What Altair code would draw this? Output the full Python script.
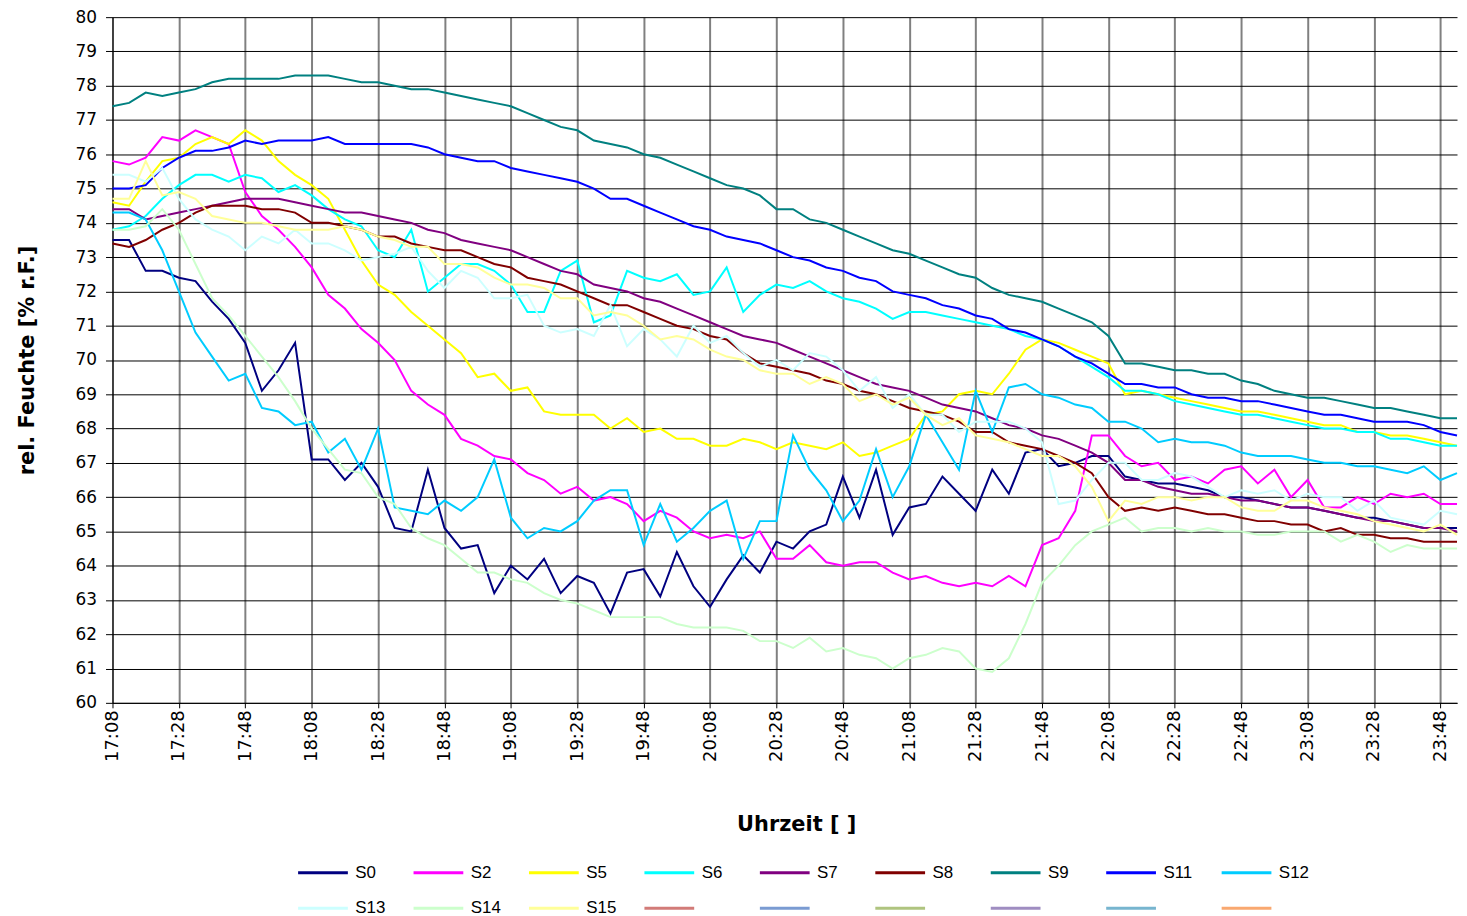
import altair as alt
import pandas as pd

# ---------------- data ----------------
series_names = ["S0", "S2", "S5", "S6", "S7", "S8", "S9", "S11", "S12", "S13", "S14", "S15"]
series_colors = ["#000080", "#FF00FF", "#FFFF00", "#00FFFF", "#800080", "#800000",
                 "#008080", "#0000FF", "#00CCFF", "#CCFFFF", "#CCFFCC", "#FFFF99"]
# legend-only entries without a name in the original
blank_names = [" ", "  ", "   ", "    ", "     ", "      "]
blank_colors = ["#D27B78", "#7A9BD2", "#AFC47F", "#9F8DC1", "#77B5CF", "#F9A870"]

step_minutes = 5  # one reading every 5 minutes, first at 17:08
tick_labels = ["17:08", "17:28", "17:48", "18:08", "18:28", "18:48", "19:08", "19:28",
               "19:48", "20:08", "20:28", "20:48", "21:08", "21:28", "21:48", "22:08",
               "22:28", "22:48", "23:08", "23:28", "23:48"]

S0 = [73.5, 73.5, 72.6, 72.6, 72.4, 72.3, 71.7, 71.2, 70.5, 69.1, 69.7, 70.5,
      67.1, 67.1, 66.5, 67.0, 66.3, 65.1, 65.0, 66.8, 65.1, 64.5, 64.6, 63.2,
      64.0, 63.6, 64.2, 63.2, 63.7, 63.5, 62.6, 63.8, 63.9, 63.1, 64.4, 63.4,
      62.8, 63.6, 64.3, 63.8, 64.7, 64.5, 65.0, 65.2, 66.6, 65.4, 66.8, 64.9,
      65.7, 65.8, 66.6, 66.1, 65.6, 66.8, 66.1, 67.3, 67.4, 66.9, 67.0, 67.2,
      67.2, 66.6, 66.5, 66.4, 66.4, 66.3, 66.2, 66.0, 66.0, 65.9, 65.8, 65.7,
      65.7, 65.6, 65.5, 65.4, 65.4, 65.3, 65.2, 65.1, 65.1, 65.1]
S2 = [75.8, 75.7, 75.9, 76.5, 76.4, 76.7, 76.5, 76.3, 74.9, 74.2, 73.8, 73.3,
      72.7, 71.9, 71.5, 70.9, 70.5, 70.0, 69.1, 68.7, 68.4, 67.7, 67.5, 67.2,
      67.1, 66.7, 66.5, 66.1, 66.3, 65.9, 66.0, 65.8, 65.3, 65.6, 65.4, 65.0,
      64.8, 64.9, 64.8, 65.0, 64.2, 64.2, 64.6, 64.1, 64.0, 64.1, 64.1, 63.8,
      63.6, 63.7, 63.5, 63.4, 63.5, 63.4, 63.7, 63.4, 64.6, 64.8, 65.6, 67.8,
      67.8, 67.2, 66.9, 67.0, 66.5, 66.6, 66.4, 66.8, 66.9, 66.4, 66.8, 66.0,
      66.5, 65.7, 65.7, 66.0, 65.8, 66.1, 66.0, 66.1, 65.8, 65.8]
S5 = [74.6, 74.5, 75.2, 75.8, 75.9, 76.3, 76.5, 76.3, 76.7, 76.4, 75.8, 75.4,
      75.1, 74.7, 73.8, 72.9, 72.2, 71.9, 71.4, 71.0, 70.6, 70.2, 69.5, 69.6,
      69.1, 69.2, 68.5, 68.4, 68.4, 68.4, 68.0, 68.3, 67.9, 68.0, 67.7, 67.7,
      67.5, 67.5, 67.7, 67.6, 67.4, 67.6, 67.5, 67.4, 67.6, 67.2, 67.3, 67.5,
      67.7, 68.4, 68.5, 69.0, 69.1, 69.0, 69.6, 70.3, 70.6, 70.5, 70.3, 70.1,
      69.9, 69.0, 69.1, 69.0, 68.9, 68.8, 68.7, 68.6, 68.5, 68.5, 68.4, 68.3,
      68.2, 68.1, 68.1, 67.9, 67.9, 67.8, 67.8, 67.7, 67.6, 67.5]
S6 = [73.8, 73.9, 74.2, 74.7, 75.1, 75.4, 75.4, 75.2, 75.4, 75.3, 74.9, 75.1,
      74.8, 74.4, 74.1, 73.9, 73.2, 73.0, 73.8, 72.0, 72.4, 72.8, 72.8, 72.6,
      72.2, 71.4, 71.4, 72.6, 72.9, 71.1, 71.3, 72.6, 72.4, 72.3, 72.5, 71.9,
      72.0, 72.7, 71.4, 71.9, 72.2, 72.1, 72.3, 72.0, 71.8, 71.7, 71.5, 71.2,
      71.4, 71.4, 71.3, 71.2, 71.1, 71.0, 70.9, 70.7, 70.6, 70.4, 70.1, 69.8,
      69.5, 69.1, 69.1, 69.0, 68.8, 68.7, 68.6, 68.5, 68.4, 68.4, 68.3, 68.2,
      68.1, 68.0, 68.0, 67.9, 67.9, 67.7, 67.7, 67.6, 67.5, 67.5]
S7 = [74.4, 74.4, 74.1, 74.2, 74.3, 74.4, 74.5, 74.6, 74.7, 74.7, 74.7, 74.6,
      74.5, 74.4, 74.3, 74.3, 74.2, 74.1, 74.0, 73.8, 73.7, 73.5, 73.4, 73.3,
      73.2, 73.0, 72.8, 72.6, 72.5, 72.2, 72.1, 72.0, 71.8, 71.7, 71.5, 71.3,
      71.1, 70.9, 70.7, 70.6, 70.5, 70.3, 70.1, 69.9, 69.7, 69.5, 69.3, 69.2,
      69.1, 68.9, 68.7, 68.6, 68.5, 68.3, 68.1, 68.0, 67.8, 67.7, 67.5, 67.3,
      67.0, 66.5, 66.5, 66.3, 66.2, 66.1, 66.1, 66.0, 65.9, 65.9, 65.8, 65.7,
      65.7, 65.6, 65.5, 65.4, 65.3, 65.3, 65.2, 65.1, 65.1, 65.0]
S8 = [73.4, 73.3, 73.5, 73.8, 74.0, 74.3, 74.5, 74.5, 74.5, 74.4, 74.4, 74.3,
      74.0, 74.0, 73.9, 73.8, 73.6, 73.6, 73.4, 73.3, 73.2, 73.2, 73.0, 72.8,
      72.7, 72.4, 72.3, 72.2, 72.0, 71.8, 71.6, 71.6, 71.4, 71.2, 71.0, 70.9,
      70.7, 70.6, 70.2, 69.9, 69.8, 69.7, 69.6, 69.4, 69.3, 69.1, 69.0, 68.8,
      68.6, 68.5, 68.4, 68.2, 67.9, 67.9, 67.6, 67.5, 67.4, 67.2, 67.0, 66.7,
      66.0, 65.6, 65.7, 65.6, 65.7, 65.6, 65.5, 65.5, 65.4, 65.3, 65.3, 65.2,
      65.2, 65.0, 65.1, 64.9, 64.9, 64.8, 64.8, 64.7, 64.7, 64.7]
S9 = [77.4, 77.5, 77.8, 77.7, 77.8, 77.9, 78.1, 78.2, 78.2, 78.2, 78.2, 78.3,
      78.3, 78.3, 78.2, 78.1, 78.1, 78.0, 77.9, 77.9, 77.8, 77.7, 77.6, 77.5,
      77.4, 77.2, 77.0, 76.8, 76.7, 76.4, 76.3, 76.2, 76.0, 75.9, 75.7, 75.5,
      75.3, 75.1, 75.0, 74.8, 74.4, 74.4, 74.1, 74.0, 73.8, 73.6, 73.4, 73.2,
      73.1, 72.9, 72.7, 72.5, 72.4, 72.1, 71.9, 71.8, 71.7, 71.5, 71.3, 71.1,
      70.7, 69.9, 69.9, 69.8, 69.7, 69.7, 69.6, 69.6, 69.4, 69.3, 69.1, 69.0,
      68.9, 68.9, 68.8, 68.7, 68.6, 68.6, 68.5, 68.4, 68.3, 68.3]
S11 = [75.0, 75.0, 75.1, 75.6, 75.9, 76.1, 76.1, 76.2, 76.4, 76.3, 76.4, 76.4,
       76.4, 76.5, 76.3, 76.3, 76.3, 76.3, 76.3, 76.2, 76.0, 75.9, 75.8, 75.8,
       75.6, 75.5, 75.4, 75.3, 75.2, 75.0, 74.7, 74.7, 74.5, 74.3, 74.1, 73.9,
       73.8, 73.6, 73.5, 73.4, 73.2, 73.0, 72.9, 72.7, 72.6, 72.4, 72.3, 72.0,
       71.9, 71.8, 71.6, 71.5, 71.3, 71.2, 70.9, 70.8, 70.6, 70.4, 70.1, 69.9,
       69.6, 69.3, 69.3, 69.2, 69.2, 69.0, 68.9, 68.9, 68.8, 68.8, 68.7, 68.6,
       68.5, 68.4, 68.4, 68.3, 68.2, 68.2, 68.2, 68.1, 67.9, 67.8]
S12 = [74.3, 74.3, 74.1, 73.2, 72.0, 70.8, 70.1, 69.4, 69.6, 68.6, 68.5, 68.1,
       68.2, 67.3, 67.7, 66.8, 68.0, 65.7, 65.6, 65.5, 65.9, 65.6, 66.0, 67.1,
       65.4, 64.8, 65.1, 65.0, 65.3, 65.9, 66.2, 66.2, 64.6, 65.8, 64.7, 65.1,
       65.6, 65.9, 64.2, 65.3, 65.3, 67.8, 66.8, 66.2, 65.3, 65.9, 67.4, 66.0,
       66.9, 68.4, 67.6, 66.8, 69.1, 67.9, 69.2, 69.3, 69.0, 68.9, 68.7, 68.6,
       68.2, 68.2, 68.0, 67.6, 67.7, 67.6, 67.6, 67.5, 67.3, 67.2, 67.2, 67.2,
       67.1, 67.0, 67.0, 66.9, 66.9, 66.8, 66.7, 66.9, 66.5, 66.7]
S13 = [75.4, 75.4, 75.2, 75.6, 74.7, 74.1, 73.8, 73.6, 73.2, 73.6, 73.4, 73.8,
       73.4, 73.4, 73.2, 72.9, 73.0, 73.1, 73.3, 72.6, 72.1, 72.6, 72.4, 71.8,
       71.8, 71.9, 71.0, 70.8, 70.9, 70.7, 71.6, 70.4, 70.9, 70.6, 70.1, 71.0,
       70.5, 70.7, 70.2, 69.8, 70.0, 69.7, 70.2, 70.1, 69.7, 69.1, 69.5, 68.6,
       69.0, 68.4, 68.4, 67.9, 68.2, 68.2, 68.2, 68.0, 67.6, 65.8, 65.9, 66.5,
       67.0, 67.0, 66.5, 66.5, 66.7, 66.6, 66.3, 66.0, 66.2, 66.1, 66.2, 65.9,
       66.1, 66.0, 66.0, 65.6, 65.9, 65.4, 65.3, 65.2, 65.6, 65.5]
S14 = [73.8, 73.8, 73.9, 74.4, 73.8, 72.8, 71.8, 71.3, 70.7, 70.1, 69.5, 68.8,
       68.0, 67.4, 66.8, 66.7, 66.0, 65.8, 65.1, 64.8, 64.6, 64.2, 63.8, 63.8,
       63.6, 63.5, 63.2, 63.0, 62.9, 62.7, 62.5, 62.5, 62.5, 62.5, 62.3, 62.2,
       62.2, 62.2, 62.1, 61.8, 61.8, 61.6, 61.9, 61.5, 61.6, 61.4, 61.3, 61.0,
       61.3, 61.4, 61.6, 61.5, 61.0, 60.9, 61.3, 62.3, 63.5, 64.0, 64.6, 65.0,
       65.2, 65.4, 65.0, 65.1, 65.1, 65.0, 65.1, 65.0, 65.0, 64.9, 64.9, 65.0,
       65.0, 65.0, 64.7, 64.9, 64.7, 64.4, 64.6, 64.5, 64.5, 64.5]
S15 = [74.7, 74.7, 75.8, 74.8, 74.9, 74.7, 74.2, 74.1, 74.0, 74.0, 73.9, 73.8,
       73.8, 73.8, 73.9, 73.8, 73.6, 73.5, 73.3, 73.3, 72.8, 72.8, 72.7, 72.4,
       72.2, 72.2, 72.1, 71.8, 71.8, 71.3, 71.4, 71.3, 71.0, 70.6, 70.7, 70.6,
       70.3, 70.1, 70.0, 69.7, 69.6, 69.6, 69.3, 69.5, 69.3, 68.8, 69.0, 68.7,
       68.9, 68.4, 68.1, 68.3, 67.8, 67.7, 67.6, 67.4, 67.2, 67.2, 66.9, 66.3,
       65.3, 65.9, 65.8, 66.0, 66.0, 65.9, 66.0, 66.0, 65.7, 65.6, 65.6, 65.9,
       65.9, 65.7, 65.6, 65.5, 65.3, 65.2, 65.1, 65.0, 65.2, 64.9]

series_values = [S0, S2, S5, S6, S7, S8, S9, S11, S12, S13, S14, S15]

rows = []
for name, vals in zip(series_names, series_values):
    for i, v in enumerate(vals):
        rows.append({"Minute": i * step_minutes, "Wert": v, "Sensor": name})
df = pd.DataFrame(rows)

label_expr = "[" + ",".join("'%s'" % t for t in tick_labels) + "][round(datum.value/20)]"

AX_FONT = "DejaVu Sans"

x_axis = alt.Axis(
    values=list(range(0, 401, 20)), labelExpr=label_expr, labelAngle=270,
    labelFont=AX_FONT, labelFontSize=18, labelColor="#000000", labelPadding=2,
    tickColor="#000000", tickSize=5, tickWidth=1,
    domainColor="#000000", domainWidth=1,
    grid=True, gridColor="#808080", gridWidth=2,
    title="Uhrzeit [ ]", titleFont=AX_FONT, titleFontSize=21, titleFontWeight="bold",
    titleColor="#000000", titlePadding=52, titleX=687, titleAlign="center",
)
y_axis = alt.Axis(
    values=list(range(60, 81)), labelFont=AX_FONT, labelFontSize=17, labelColor="#000000",
    labelPadding=9, tickColor="#000000", tickSize=7, tickWidth=1,
    domainColor="#000000", domainWidth=1,
    grid=True, gridColor="#000000", gridWidth=1,
    title="rel. Feuchte [% r.F.]", titleFont=AX_FONT, titleFontSize=21,
    titleFontWeight="bold", titleColor="#000000", titlePadding=38,
)

# flat, wide line symbol: the path is scaled by sqrt(symbolSize)/2 = 10 -> 50 px long
legend = alt.Legend(
    title=None, orient="none", legendX=200, legendY=848, direction="horizontal",
    columns=9, gridAlign="all", columnPadding=21, rowPadding=16, padding=0,
    symbolType="M-2.5,0L2.5,0", symbolSize=400, symbolStrokeWidth=3,
    labelFont="Liberation Sans", labelFontSize=17, labelColor="#000000", labelOffset=21,
)

chart = alt.Chart(df).mark_line(strokeWidth=2).encode(
    x=alt.X("Minute:Q", scale=alt.Scale(domain=[0, 405], nice=False, zero=False), axis=x_axis),
    y=alt.Y("Wert:Q", scale=alt.Scale(domain=[60, 80], nice=False, zero=False), axis=y_axis),
    color=alt.Color("Sensor:N",
                    scale=alt.Scale(domain=series_names + blank_names,
                                    range=series_colors + blank_colors),
                    legend=legend),
).properties(
    width=1351, height=689,
    autosize=alt.AutoSizeParams(type="none"),
    padding={"left": 105, "top": 7, "right": 2, "bottom": 212},
    background="#FFFFFF",
).configure_view(stroke=None)

chart.save("out.html", embed_options={"renderer": "svg", "actions": False})
